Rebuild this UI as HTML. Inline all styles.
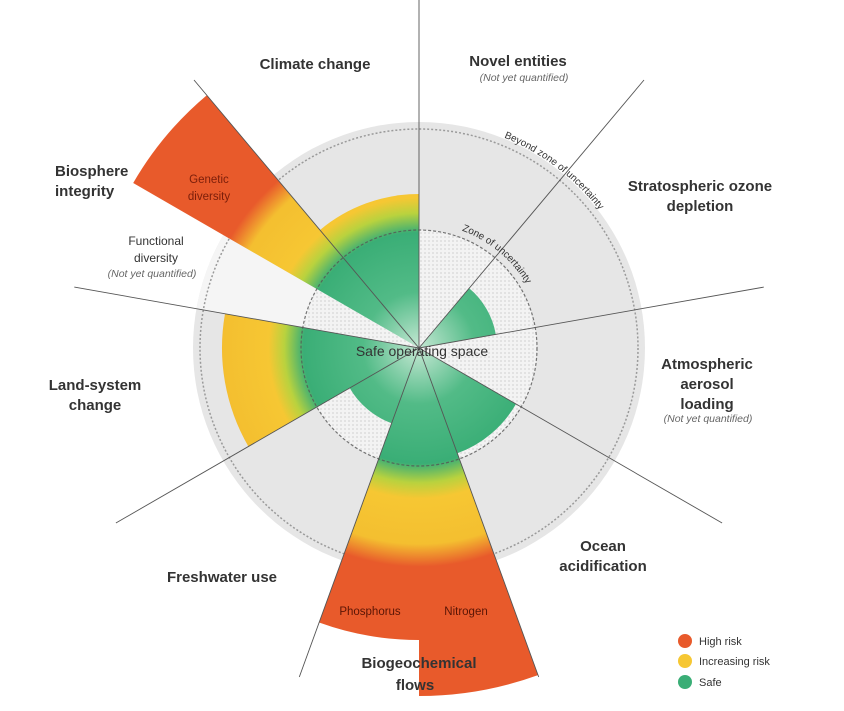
<!DOCTYPE html>
<html><head><meta charset="utf-8"><style>
html,body{margin:0;padding:0;background:#fff}
svg{display:block}
text{font-family:"Liberation Sans",sans-serif;fill:#333}
.b{font-weight:bold;font-size:15px}
.i{font-style:italic;font-size:10.5px;fill:#666}
</style></head><body>
<svg width="844" height="711" viewBox="0 0 844 711" xmlns="http://www.w3.org/2000/svg">
<defs>
<radialGradient id="g" gradientUnits="userSpaceOnUse" cx="419" cy="348" r="350">
<stop offset="0" stop-color="#c6e8d4"/>
<stop offset="0.16" stop-color="#52bb87"/>
<stop offset="0.33" stop-color="#3aae76"/>
<stop offset="0.385" stop-color="#b9d23e"/>
<stop offset="0.43" stop-color="#f6c733"/>
<stop offset="0.56" stop-color="#f4bf30"/>
<stop offset="0.625" stop-color="#e85a2b"/>
<stop offset="1" stop-color="#e85a2b"/>
</radialGradient>
<pattern id="dots" width="4" height="4" patternUnits="userSpaceOnUse">
<rect width="4" height="4" fill="#f3f3f3"/><rect width="2" height="2" fill="#e2e2e2"/>
</pattern>
<path id="outerArc" d="M504,137.5 A227 227 0 0 1 638.3,289.2"/>
<path id="innerArc" d="M461.8,230.5 A125 125 0 0 1 539.7,315.6"/>
</defs>
<rect width="844" height="711" fill="#fff"/>
<circle cx="419" cy="348" r="226" fill="#e6e6e6"/>
<path d="M419,348 L196.4,308.8 A226 226 0 0 1 223.3,235 Z" fill="#f5f5f5"/>
<circle cx="419" cy="348" r="219" fill="none" stroke="#9a9a9a" stroke-width="1.5" stroke-dasharray="2 2"/>
<circle cx="419" cy="348" r="118" fill="url(#dots)"/>
<!-- wedges -->
<g fill="url(#g)">
<path d="M419,348 L320,230 A154 154 0 0 1 419,194 Z"/>
<path d="M419,348 L133.2,183 A330 330 0 0 1 206.8,95.2 Z"/>
<path d="M419,348 L248.4,446.5 A197 197 0 0 1 225,313.7 Z"/>
<path d="M419,348 L391.6,423.2 A80 80 0 0 1 349.7,388 Z"/>
<path d="M419,348 L419,640 A292 292 0 0 1 319.1,622.5 Z"/>
<path d="M419,348 L538,675.1 A348 348 0 0 1 419,696 Z"/>
<path d="M419,348 L516,404 A112 112 0 0 1 457.3,453.3 Z"/>
<path d="M419,348 L469.2,288.3 A78 78 0 0 1 495.8,334.4 Z"/>
</g>
<circle cx="419" cy="348" r="118" fill="none" stroke="#555" stroke-width="1.2" stroke-dasharray="3 2" opacity="0.8"/>
<g stroke="#555" stroke-width="0.9">
<line x1="419" y1="348" x2="419" y2="0"/>
<line x1="419" y1="348" x2="644" y2="80"/>
<line x1="419" y1="348" x2="763.8" y2="287.1"/>
<line x1="419" y1="348" x2="722.1" y2="523"/>
<line x1="419" y1="348" x2="538.7" y2="677"/>
<line x1="419" y1="348" x2="299.3" y2="677"/>
<line x1="419" y1="348" x2="115.9" y2="523"/>
<line x1="419" y1="348" x2="74.3" y2="287.1"/>
<line x1="419" y1="348" x2="194" y2="80"/>
</g>
<text font-size="10" fill="#444"><textPath href="#outerArc">Beyond zone of uncertainty</textPath></text>
<text font-size="10" fill="#444"><textPath href="#innerArc">Zone of uncertainty</textPath></text>
<text x="422" y="356" text-anchor="middle" font-size="14" fill="#222">Safe operating space</text>
<g class="b" text-anchor="middle">
<text class="b" x="315" y="69">Climate change</text>
<text class="b" x="518" y="66">Novel entities</text>
<text class="b" x="700" y="191">Stratospheric ozone</text>
<text class="b" x="700" y="211">depletion</text>
<text class="b" x="707" y="369">Atmospheric</text>
<text class="b" x="707" y="389">aerosol</text>
<text class="b" x="707" y="409">loading</text>
<text class="b" x="603" y="551">Ocean</text>
<text class="b" x="603" y="571">acidification</text>
<text class="b" x="222" y="582">Freshwater use</text>
<text class="b" x="419" y="668">Biogeochemical</text>
<text class="b" x="415" y="690">flows</text>
<text class="b" x="95" y="390">Land-system</text>
<text class="b" x="95" y="410">change</text>
</g>
<text class="b" x="55" y="176">Biosphere</text>
<text class="b" x="55" y="196">integrity</text>
<g text-anchor="middle">
<text class="i" x="524" y="81">(Not yet quantified)</text>
<text class="i" x="708" y="422">(Not yet quantified)</text>
<text class="i" x="152" y="277">(Not yet quantified)</text>
<text x="156" y="245" font-size="12">Functional</text>
<text x="156" y="262" font-size="12">diversity</text>
<text x="209" y="183" font-size="11.5" style="fill:#7a1e0a">Genetic</text>
<text x="209" y="200" font-size="11.5" style="fill:#7a1e0a">diversity</text>
<text x="370" y="615" font-size="11.5" style="fill:#5a1505">Phosphorus</text>
<text x="466" y="615" font-size="11.5" style="fill:#5a1505">Nitrogen</text>
</g>
<circle cx="685" cy="641" r="7" fill="#e85a2b"/>
<circle cx="685" cy="661" r="7" fill="#f6c733"/>
<circle cx="685" cy="682" r="7" fill="#3aae76"/>
<g font-size="11" fill="#333">
<text x="699" y="645">High risk</text>
<text x="699" y="665">Increasing risk</text>
<text x="699" y="686">Safe</text>
</g>
</svg>
</body></html>
